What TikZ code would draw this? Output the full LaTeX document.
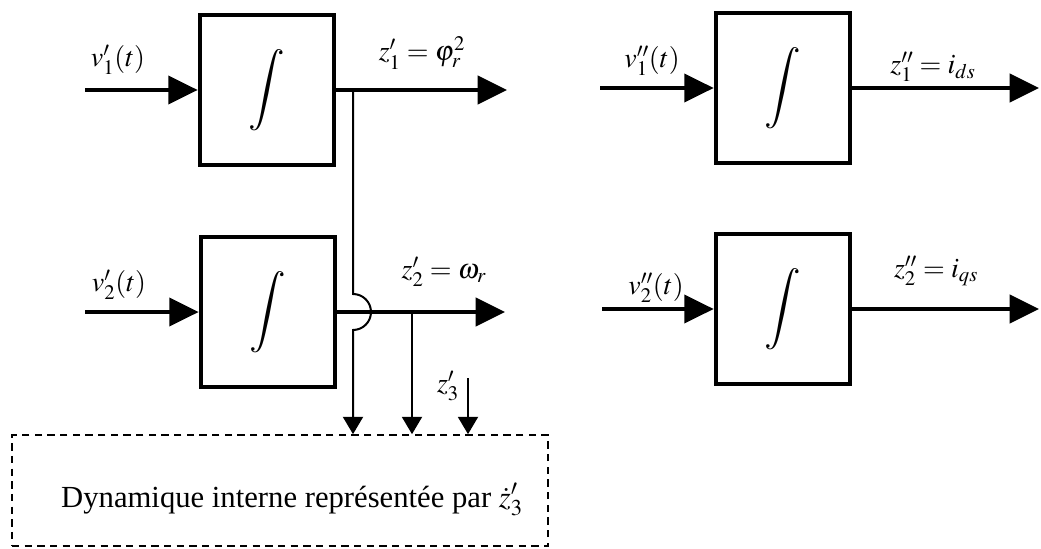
\documentclass[tikz,border=0pt]{standalone}
\usepackage{mathptmx}
\usepackage{fontspec}
\setmainfont{Liberation Serif}
\usetikzlibrary{arrows.meta}
\newcommand\intsym{\resizebox*{!}{61pt}{$\displaystyle\int$}}
\begin{document}
\thickmuskip=4mu plus 2mu
\begin{tikzpicture}[x=0.75pt,y=-0.75pt,
  blk/.style={draw, line width=3pt, minimum width=101pt, minimum height=112pt, inner sep=0pt},
  sig/.style={line width=3pt, -{Triangle[length=22pt,width=21pt]}},
  tap/.style={line width=1.5pt, -{Triangle[length=13pt,width=15pt]}},
  lbl/.style={font=\fontsize{21}{25}\selectfont, inner sep=0pt},
  txt/.style={font=\fontsize{23}{27}\selectfont, inner sep=0pt},
  dyn/.style={draw, dash pattern=on 5.5pt off 4pt, line width=1.5pt, minimum width=402pt, minimum height=83pt, inner sep=0pt}]
\useasboundingbox (0,0) rectangle (1041,549);
% blocks
\node[blk] (b1) at (267,90) {\intsym};
\node[blk] (b2) at (268,312) {\intsym};
\node[blk] (b3) at (783,88) {\intsym};
\node[blk] (b4) at (783,309) {\intsym};
% internal dynamics box
\node[dyn] (dyn) at (280,490.5) {};
\node[txt, anchor=base] (dyntxt) at (292,507) {Dynamique interne représentée par $\dot{z}'_3$};
% signal ends
\coordinate (i1) at (85,90);
\coordinate (o1) at (507,90);
\coordinate (i2) at (85,312);
\coordinate (o2) at (505,312);
\coordinate (i3) at (600,88);
\coordinate (o3) at (1039,88);
\coordinate (i4) at (602,309);
\coordinate (o4) at (1039,309);
\coordinate (j1) at (353,90);
\coordinate (hop1) at (353,294);
\coordinate (j2) at (412,312);
\coordinate (z3s) at (468,378);
% signals
\draw[sig] (i1) -- (b1.west);
\draw[sig] (b1.east) -- (o1);
\draw[sig] (i2) -- (b2.west);
\draw[sig] (b2.east) -- (o2);
\draw[sig] (i3) -- (b3.west);
\draw[sig] (b3.east) -- (o3);
\draw[sig] (i4) -- (b4.west);
\draw[sig] (b4.east) -- (o4);
% taps to internal dynamics
\draw[tap] (j1) -- (hop1) arc[start angle=-90,end angle=90,radius=18] -- (j1 |- dyn.north);
\draw[tap] (j2) -- (j2 |- dyn.north);
\draw[tap] (z3s) -- (z3s |- dyn.north);
% labels
\node[lbl] (l1) at (118,60) {$v'_1(t)$};
\node[lbl] (l2) at (119,285) {$v'_2(t)$};
\node[lbl] (l3) at (652,61) {$v''_1(t)$};
\node[lbl] (l4) at (656,288) {$v''_2(t)$};
\node[lbl] (l5) at (422,53) {$z'_1=\varphi_r^2$};
\node[lbl] (l6) at (444,272) {$z'_2=\omega_r$};
\node[lbl] (l7) at (933,67) {$z''_1=i_{ds}$};
\node[lbl] (l8) at (936,271) {$z''_2=i_{qs}$};
\node[lbl] (l9) at (448,386) {$z'_3$};
\end{tikzpicture}
\end{document}
